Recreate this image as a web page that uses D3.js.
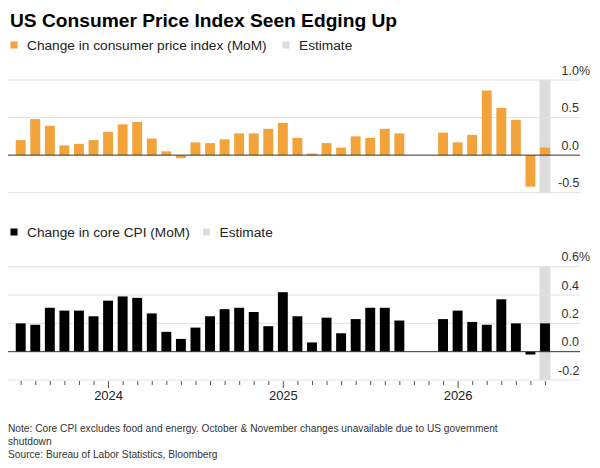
<!DOCTYPE html>
<html>
<head>
<meta charset="utf-8">
<script src="https://cdn.jsdelivr.net/npm/d3@7"></script>
<style>
  body { margin: 0; background: #fff; }
  text { font-family: "Liberation Sans", Arial, sans-serif; }
</style>
</head>
<body>
<div id="chart"></div>
<script>
// Monthly keys, Jul 2023 .. Jul 2026 (last month is the estimate)
const months = [
  "2023-07","2023-08","2023-09","2023-10","2023-11","2023-12",
  "2024-01","2024-02","2024-03","2024-04","2024-05","2024-06",
  "2024-07","2024-08","2024-09","2024-10","2024-11","2024-12",
  "2025-01","2025-02","2025-03","2025-04","2025-05","2025-06",
  "2025-07","2025-08","2025-09","2025-10","2025-11","2025-12",
  "2026-01","2026-02","2026-03","2026-04","2026-05","2026-06",
  "2026-07"
];

// headline CPI, MoM %  (null = not published)
const cpiValues = [
  0.20, 0.48, 0.39, 0.13, 0.15, 0.20,
  0.31, 0.41, 0.44, 0.22, 0.05, -0.04,
  0.17, 0.16, 0.21, 0.29, 0.29, 0.35,
  0.43, 0.23, 0.02, 0.16, 0.10, 0.25,
  0.23, 0.35, 0.29, null, null, 0.30,
  0.17, 0.27, 0.86, 0.63, 0.47, -0.42,
  0.10
];

// core CPI, MoM %
const coreValues = [
  0.20, 0.19, 0.31, 0.29, 0.29, 0.25,
  0.36, 0.39, 0.38, 0.27, 0.14, 0.09,
  0.17, 0.25, 0.30, 0.31, 0.28, 0.18,
  0.42, 0.25, 0.065, 0.24, 0.13, 0.23,
  0.31, 0.31, 0.22, null, null, 0.23,
  0.29, 0.21, 0.19, 0.37, 0.20, -0.02,
  0.20
];

const estimateMonth = "2026-07";

const cpiTicks = [-0.5, 0, 0.5, 1.0];
const coreTicks = [-0.2, 0, 0.2, 0.4, 0.6];

const orange = "#f2a33a";
const black = "#000000";
const estGray = "#dcdcdc";
const gridGray = "#e2e2e2";

const width = 600, height = 468;

const svg = d3.select("#chart")
              .append("svg")
              .attr("width", width)
              .attr("height", height);

// title
svg.append("text")
   .attr("x", 10)
   .attr("y", 27)
   .style("font-size", "19.2px")
   .style("font-weight", "bold")
   .attr("fill", "#000")
   .text("US Consumer Price Index Seen Edging Up");

// shared x scale (bar centres)
const x = d3.scalePoint()
            .domain(months)
            .range([20.7, 545]);
const barW = x.step() * 0.68;
const gridX0 = 8, gridX1 = 580;

function legend(y, color, label, estX) {
  svg.append("rect")
     .attr("x", 10.5).attr("y", y - 3.5)
     .attr("width", 7).attr("height", 7)
     .attr("fill", color);
  svg.append("text")
     .attr("x", 27).attr("y", y + 4.8)
     .style("font-size", "13.7px")
     .attr("fill", "#222")
     .text(label);
  svg.append("rect")
     .attr("x", estX).attr("y", y - 3.5)
     .attr("width", 7).attr("height", 7)
     .attr("fill", estGray);
  svg.append("text")
     .attr("x", estX + 16.5).attr("y", y + 4.8)
     .style("font-size", "13.7px")
     .attr("fill", "#222")
     .text("Estimate");
}

function panel(values, ticks, yRange, color) {
  const y = d3.scaleLinear()
              .domain([ticks[0], ticks[ticks.length - 1]])
              .range(yRange);
  const g = svg.append("g");

  // estimate band
  g.append("rect")
   .attr("x", x(estimateMonth) - barW / 2 - 0.5)
   .attr("y", y(ticks[ticks.length - 1]))
   .attr("width", barW + 1)
   .attr("height", y(ticks[0]) - y(ticks[ticks.length - 1]))
   .attr("fill", estGray);

  // gridlines
  g.selectAll("line.grid")
   .data(ticks.filter(t => t !== 0))
   .enter()
   .append("line")
   .attr("class", "grid")
   .attr("x1", gridX0).attr("x2", gridX1)
   .attr("y1", d => y(d)).attr("y2", d => y(d))
   .attr("stroke", gridGray)
   .attr("stroke-width", 1);

  // y labels, right side
  g.selectAll("text.ylab")
   .data(ticks)
   .enter()
   .append("text")
   .attr("class", "ylab")
   .attr("x", d => d < 0 ? 558 : 561.5)
   .attr("y", d => y(d) - 5.5)
   .style("font-size", "12.5px")
   .attr("fill", "#333")
   .text((d, i) => d3.format(".1f")(d).replace("−", "-") + (i === ticks.length - 1 ? "%" : ""));

  // bars
  const data = months.map((m, i) => ({ m, v: values[i] })).filter(d => d.v !== null);
  g.selectAll("rect.bar")
   .data(data)
   .enter()
   .append("rect")
   .attr("class", "bar")
   .attr("x", d => x(d.m) - barW / 2)
   .attr("y", d => y(Math.max(0, d.v)))
   .attr("width", barW)
   .attr("height", d => Math.max(1, Math.abs(y(d.v) - y(0))))
   .attr("fill", color);

  // zero line
  g.append("line")
   .attr("x1", gridX0).attr("x2", gridX1)
   .attr("y1", y(0)).attr("y2", y(0))
   .attr("stroke", "#333")
   .attr("stroke-width", 1);

  return y;
}

legend(45, orange, "Change in consumer price index (MoM)", 282.5);
panel(cpiValues, cpiTicks, [192.7, 80], orange);

legend(232, black, "Change in core CPI (MoM)", 203);
const yCore = panel(coreValues, coreTicks, [380, 266.7], black);

// x axis under the core panel
const xAxis = svg.append("g")
   .attr("transform", `translate(0,${yCore(-0.2)})`)
   .call(d3.axisBottom(x)
           .tickSize(4)
           .tickFormat(d => d.endsWith("-01") ? d.slice(0, 4) : ""));
xAxis.select(".domain").remove();
xAxis.selectAll(".tick line")
     .attr("stroke", "#555")
     .attr("y1", 1)
     .attr("y2", d => d.endsWith("-01") ? 8 : 5);
xAxis.selectAll(".tick text")
     .attr("y", 11)
     .style("font-size", "13px")
     .style("font-family", "Liberation Sans, Arial, sans-serif")
     .attr("fill", "#222");

// footnotes
const notes = [
  "Note: Core CPI excludes food and energy. October & November changes unavailable due to US government",
  "shutdown",
  "Source: Bureau of Labor Statistics, Bloomberg"
];
svg.selectAll("text.note")
   .data(notes)
   .enter()
   .append("text")
   .attr("class", "note")
   .attr("x", 8)
   .attr("y", (d, i) => 432 + i * 13.2)
   .style("font-size", "10.2px")
   .attr("fill", "#333")
   .text(d => d);
</script>
</body>
</html>
